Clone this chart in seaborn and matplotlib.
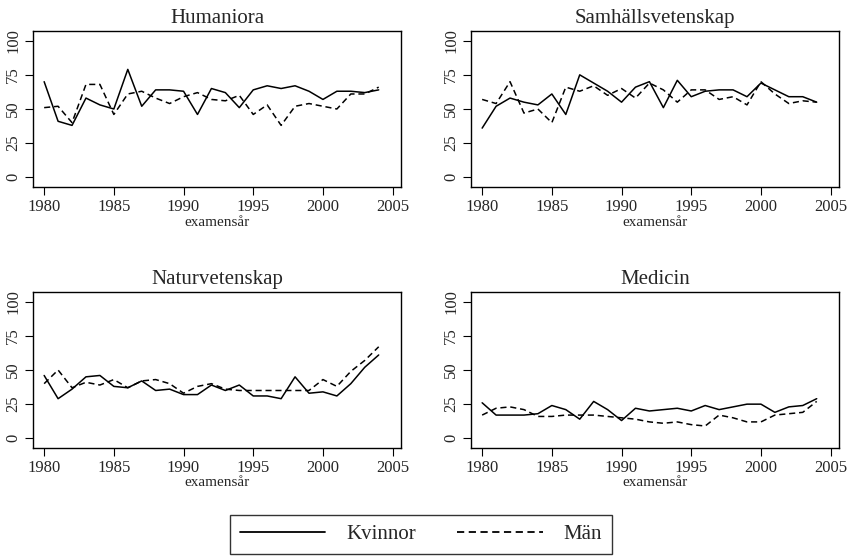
import numpy as np
import pandas as pd
import seaborn as sns
import matplotlib.pyplot as plt

years = list(range(1980, 2005))

hum_kvinnor = [70, 41, 38, 58, 53, 50, 79, 52, 64, 64, 63, 46, 65, 62, 51, 64, 67, 65, 67, 63, 57, 63, 63, 62, 64]
hum_man = [51, 52, 40, 68, 68, 46, 61, 63, 58, 54, 59, 62, 57, 56, 60, 46, 53, 38, 52, 54, 52, 50, 61, 61, 66]

sam_kvinnor = [36, 52, 58, 55, 53, 61, 46, 75, 69, 63, 55, 66, 70, 51, 71, 59, 63, 64, 64, 59, 69, 64, 59, 59, 55]
sam_man = [57, 54, 70, 47, 50, 40, 66, 63, 67, 60, 65, 58, 69, 64, 55, 64, 64, 57, 59, 53, 70, 61, 54, 56, 55]

nat_kvinnor = [46, 29, 36, 45, 46, 38, 37, 42, 35, 36, 32, 32, 39, 35, 39, 31, 31, 29, 45, 33, 34, 31, 40, 52, 61]
nat_man = [40, 50, 37, 41, 39, 43, 37, 42, 43, 40, 33, 38, 40, 36, 35, 35, 35, 35, 35, 35, 43, 38, 49, 57, 67]

med_kvinnor = [26, 17, 17, 17, 18, 24, 21, 14, 27, 21, 13, 22, 20, 21, 22, 20, 24, 21, 23, 25, 25, 19, 23, 24, 29]
med_man = [17, 22, 23, 21, 16, 16, 17, 17, 17, 16, 15, 14, 12, 11, 12, 10, 9, 17, 15, 12, 12, 17, 18, 19, 27]

panels = [
    ("Humaniora", hum_kvinnor, hum_man),
    ("Samhällsvetenskap", sam_kvinnor, sam_man),
    ("Naturvetenskap", nat_kvinnor, nat_man),
    ("Medicin", med_kvinnor, med_man),
]

sns.set_style("white")
plt.rcParams['font.family'] = ['Liberation Serif', 'DejaVu Serif']
plt.rcParams['axes.edgecolor'] = 'black'
plt.rcParams['axes.linewidth'] = 1.0

W, H = 852, 556
fig = plt.figure(figsize=(W / 100, H / 100), dpi=100)

# axes rectangles in pixels: left, top, width, height
boxes = [(33, 31, 368, 156), (471, 31, 368, 156),
         (33, 292, 368, 156), (471, 292, 368, 156)]

dash_map = {"Kvinnor": "", "Män": (4, 2.5)}

for (title, kv, mn), (l, t, w, h) in zip(panels, boxes):
    ax = fig.add_axes([l / W, 1 - (t + h) / H, w / W, h / H])
    df = pd.DataFrame({
        "år": years * 2,
        "andel": kv + mn,
        "kön": ["Kvinnor"] * len(years) + ["Män"] * len(years),
    })
    sns.lineplot(data=df, x="år", y="andel", style="kön", dashes=dash_map,
                 color="black", linewidth=1.1, ax=ax, legend=(title == "Humaniora"))
    ax.set_xlim(1979.2, 2005.6)
    ax.set_ylim(-7.1, 107.1)
    ax.set_xticks([1980, 1985, 1990, 1995, 2000, 2005])
    ax.set_yticks([0, 25, 50, 75, 100])
    ax.tick_params(axis='both', direction='out', length=5.5, width=0.8,
                   labelsize=12, color='black', pad=3, bottom=True, left=True)
    for lab in ax.get_yticklabels():
        lab.set_rotation(90)
        lab.set_va('center')
    ax.set_title(title, fontsize=15, pad=6)
    ax.set_xlabel("examensår", fontsize=11, labelpad=0.5)
    ax.set_ylabel("")
    for s in ax.spines.values():
        s.set_visible(True)
        s.set_color('black')
    if title == "Humaniora":
        handles, labels = ax.get_legend_handles_labels()
        ax.get_legend().remove()

leg = fig.legend(handles, labels, loc='center', bbox_to_anchor=(421 / W, 1 - 534.5 / H),
                 ncol=2, fontsize=15, frameon=True, fancybox=False, edgecolor='black',
                 handlelength=4.1, columnspacing=2.0, handletextpad=1.0,
                 borderpad=0.45)
leg.get_frame().set_linewidth(1.0)
for line in leg.get_lines():
    line.set_linewidth(1.3)

fig.savefig("out.png", dpi=100)
